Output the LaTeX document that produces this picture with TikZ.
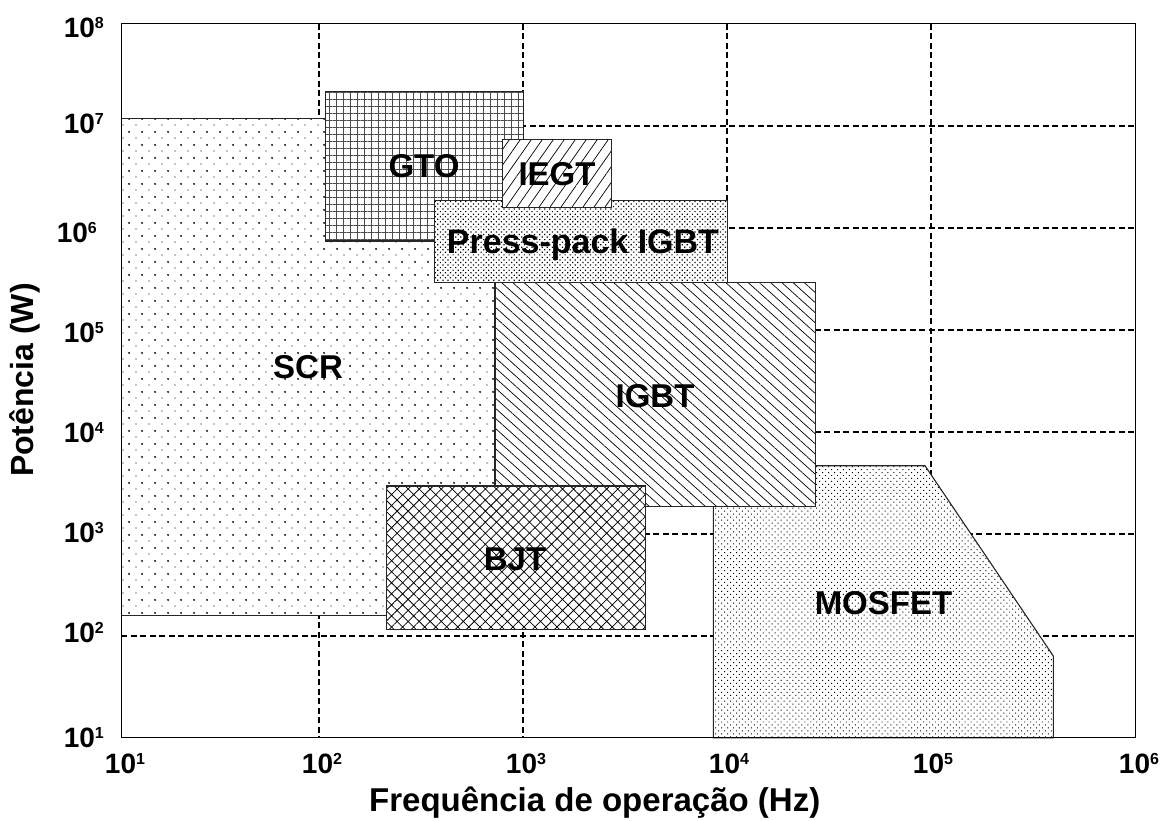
\documentclass[tikz,border=0pt]{standalone}
\usepackage{fontspec}
\setmainfont{Liberation Sans}
\usetikzlibrary{patterns.meta}
% power of ten with a raised exponent
\newcommand{\decpow}[1]{10\raisebox{8.5pt}{\fontsize{16}{16}\selectfont #1}}
\begin{document}
\begin{tikzpicture}[x=1pt,y=-1pt,
  gridline/.style={line width=2pt, dash pattern=on 6pt off 3.5pt},
  region/.style={draw=black!85, line width=1.1pt, preaction={fill=white}},
  tag/.style={font=\fontsize{33}{36}\selectfont\bfseries, anchor=base, inner sep=0pt},
  ticklabel/.style={font=\fontsize{28}{30}\selectfont\bfseries, inner sep=0pt},
  axtitle/.style={font=\fontsize{32}{34}\selectfont\bfseries, inner sep=0pt}
]
\useasboundingbox (0,0) rectangle (1160,820);
\fill[white] (0,0) rectangle (1160,820);

\coordinate (frameSW) at (121.3,737.7);
\coordinate (frameNE) at (1135.7,23.5);

% dashed decade grid
\foreach \gx in {319,523,727,931}
  \draw[gridline] (\gx,23.5) -- (\gx,737.7);
\foreach \gy in {125.7,227.7,330,432,534,636}
  \draw[gridline] (121.3,\gy) -- (1135.7,\gy);

% SCR
\draw[region, preaction={pattern={Dots[distance=13pt,radius=1.1pt]}},
      pattern={Dots[distance=13pt,radius=0.65pt,xshift=6.5pt,yshift=6.5pt]}]
  (121.3,118.3) rectangle (510,615.3);
% GTO
\draw[region, pattern={Hatch[angle=0,distance=7pt,line width=0.6pt]}, pattern color=black!70]
  (325.7,91.7) rectangle (523.3,241);
% MOSFET
\draw[region, pattern={Dots[angle=45,distance=4.2pt,radius=0.7pt]}]
  (713.3,737.7) -- (713.3,465.7) -- (925,465.7) -- (1053.3,656) -- (1053.3,737.7) -- cycle;
% IGBT
\draw[region, pattern={Lines[angle=-42,distance=7.5pt,line width=0.7pt]}]
  (495,282.7) rectangle (815.7,506.7);
% BJT
\draw[region, pattern={Hatch[angle=45,distance=7.8pt,line width=0.75pt]}]
  (386.7,486) rectangle (645.3,629.3);
% Press-pack IGBT
\draw[region, pattern={Dots[angle=45,distance=3.6pt,radius=0.85pt]}]
  (434.3,200.3) rectangle (727.3,282.3);
% IEGT
\draw[region, pattern={Lines[angle=55,distance=9pt,line width=0.7pt]}]
  (502.3,139.3) rectangle (611.7,207.3);

% plot frame
\draw[line width=1.3pt] (frameSW) rectangle (frameNE);

% device names
\node[tag] (gto) at (424,177) {GTO};
\node[tag] (iegt) at (557,185) {IEGT};
\node[tag] (pp) at (583,253) {\fontsize{34}{36}\selectfont Press-pack IGBT};
\node[tag] (scr) at (308,378) {SCR};
\node[tag] (igbt) at (655,407) {IGBT};
\node[tag] (bjt) at (515,570) {BJT};
\node[tag] (mos) at (883.5,614) {MOSFET};

% axis ticks
\foreach \e/\cx in {1/125,2/322,3/526,4/729,5/933,6/1139}
  \node[ticklabel, anchor=base] (xt\e) at (\cx,773) {\decpow{\e}};
\foreach \e/\ry/\rx in {8/37/104,7/133/104,6/242/97,5/342/104,4/442/104,3/542/104,2/642/104,1/747/104}
  \node[ticklabel, anchor=base east] (yt\e) at (\rx,\ry) {\decpow{\e}};

% axis titles
\node[axtitle, font=\fontsize{33}{35}\selectfont\bfseries, anchor=base west] (xtitle) at (369,811) {Frequência de operação (Hz)};
\node[axtitle, rotate=90] (ytitle) at (25,380) {Potência (W)};
\end{tikzpicture}
\end{document}
